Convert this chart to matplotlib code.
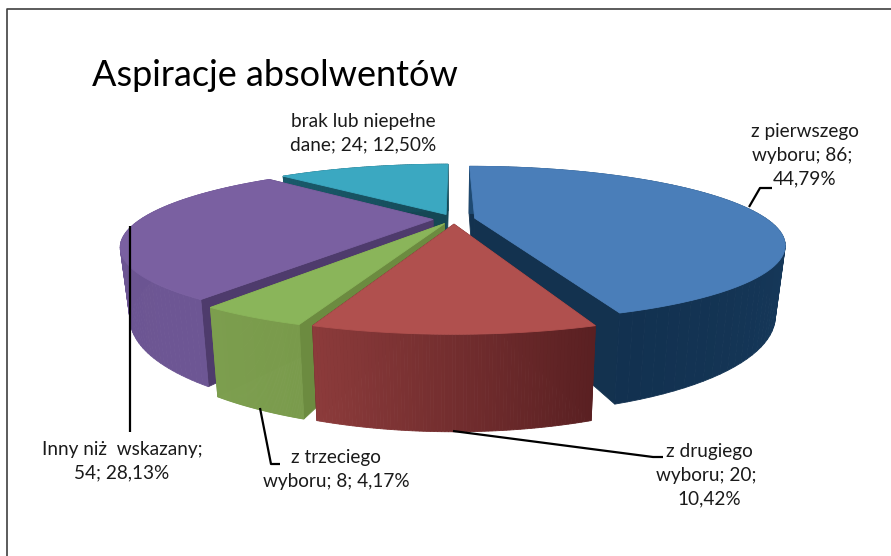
import numpy as np
import matplotlib
matplotlib.use('Agg')
import matplotlib.pyplot as plt
from matplotlib.colors import to_rgb

title = 'Aspiracje absolwentów'
names = ['z pierwszego\nwyboru;', 'z drugiego\nwyboru;', 'z trzeciego\nwyboru;',
         'Inny niż  wskazany;\n', 'brak lub niepełne\ndane;']
values = [86, 20, 8, 54, 24]
percents = ['44,79', '10,42', '4,17', '28,13', '12,50']
label_breaks = [' \n', ' \n', ' ', '', ' ']

top_colors = ['#4a7eb9', '#b0504e', '#8ab55a', '#7a60a1', '#3ba8c1']
wall_light = ['#1f4a72', '#5a2022', '#7a9b4c', '#6d5694', '#1a5a6b']
wall_dark = ['#123150', '#8c3b3b', '#7d9f4f', '#6a5390', '#154a58']
cut_colors = ['#13324f', '#5a2022', '#6c8b40', '#4e3b6c', '#154755']

# position of the labels and leader lines, in pixels
label_pos = [(805, 155), (709, 475), (336, 470), (122, 461), (363, 133)]
leaders = [[(749, 207), (760, 188), (772, 188)],
           [(453, 431), (653, 457), (663, 457)],
           [(260, 408), (271, 464), (280, 464)],
           [(130, 226), (130, 432)]]

cx, cy = 454, 219
R, h, k = 292, 69.5, 0.33
thick = 63
explode = 0.072
draw_order = [4, 3, 0, 2, 1]


def project(X, Y, z=0):
    s = 1 / (1 + k * Y)
    return cx + R * X * s * (1 - 0.03 * z), cy - h * Y * s + thick * s * z


def mix(c1, c2, t):
    c1, c2 = np.array(to_rgb(c1)), np.array(to_rgb(c2))
    return tuple(c1 + (c2 - c1) * t)


def quad(ax, X, Y, color):
    # vertical wall between two points of the pie
    p = [project(X[0], Y[0]), project(X[1], Y[1]), project(X[1], Y[1], 1), project(X[0], Y[0], 1)]
    ax.fill([a[0] for a in p], [a[1] for a in p], color=color, lw=0.6)


def draw_slice(ax, i, start, end):
    mid = (start + end) / 2
    ox, oy = explode * np.sin(mid), explode * np.cos(mid)
    t = np.linspace(start, end, 80)
    arcx, arcy = ox + np.sin(t), oy + np.cos(t)

    quad(ax, (ox, arcx[0]), (oy, arcy[0]), cut_colors[i])
    quad(ax, (ox, arcx[-1]), (oy, arcy[-1]), cut_colors[i])

    for j in range(len(t) - 1):
        frac = j / (len(t) - 2)
        quad(ax, arcx[j:j + 2], arcy[j:j + 2], mix(wall_light[i], wall_dark[i], frac))

    px, py = project(np.r_[ox, arcx], np.r_[oy, arcy])
    ax.fill(px, py, color=top_colors[i], lw=0.6)


fig = plt.figure(figsize=(8.91, 5.56), dpi=100)
ax = fig.add_axes([0, 0, 1, 1])
ax.set_xlim(0, 891)
ax.set_ylim(556, 0)
ax.axis('off')

# border, only left and top are inside the picture
ax.plot([7, 7, 891], [556, 9, 9], color='#404040', lw=1.2)

total = sum(values)
edges = np.r_[0, np.cumsum(values)] / total * 2 * np.pi
for i in draw_order:
    draw_slice(ax, i, edges[i], edges[i + 1])

for line in leaders:
    ax.plot([p[0] for p in line], [p[1] for p in line], color='black', lw=1.6, solid_capstyle='butt')

for i in range(len(values)):
    if i == 3:
        text = names[i] + '%d; %s%%' % (values[i], percents[i])
    else:
        text = names[i] + ' %d;' % values[i] + label_breaks[i] + percents[i] + '%'
    ax.text(label_pos[i][0], label_pos[i][1], text, ha='center', va='center', multialignment='center',
            family='Lato', fontsize=13.7, color='#1a1a1a', linespacing=1.5)

ax.text(92, 75, title, family='Lato', fontsize=26, color='black', ha='left', va='center')

fig.savefig('out.png', dpi=100)
